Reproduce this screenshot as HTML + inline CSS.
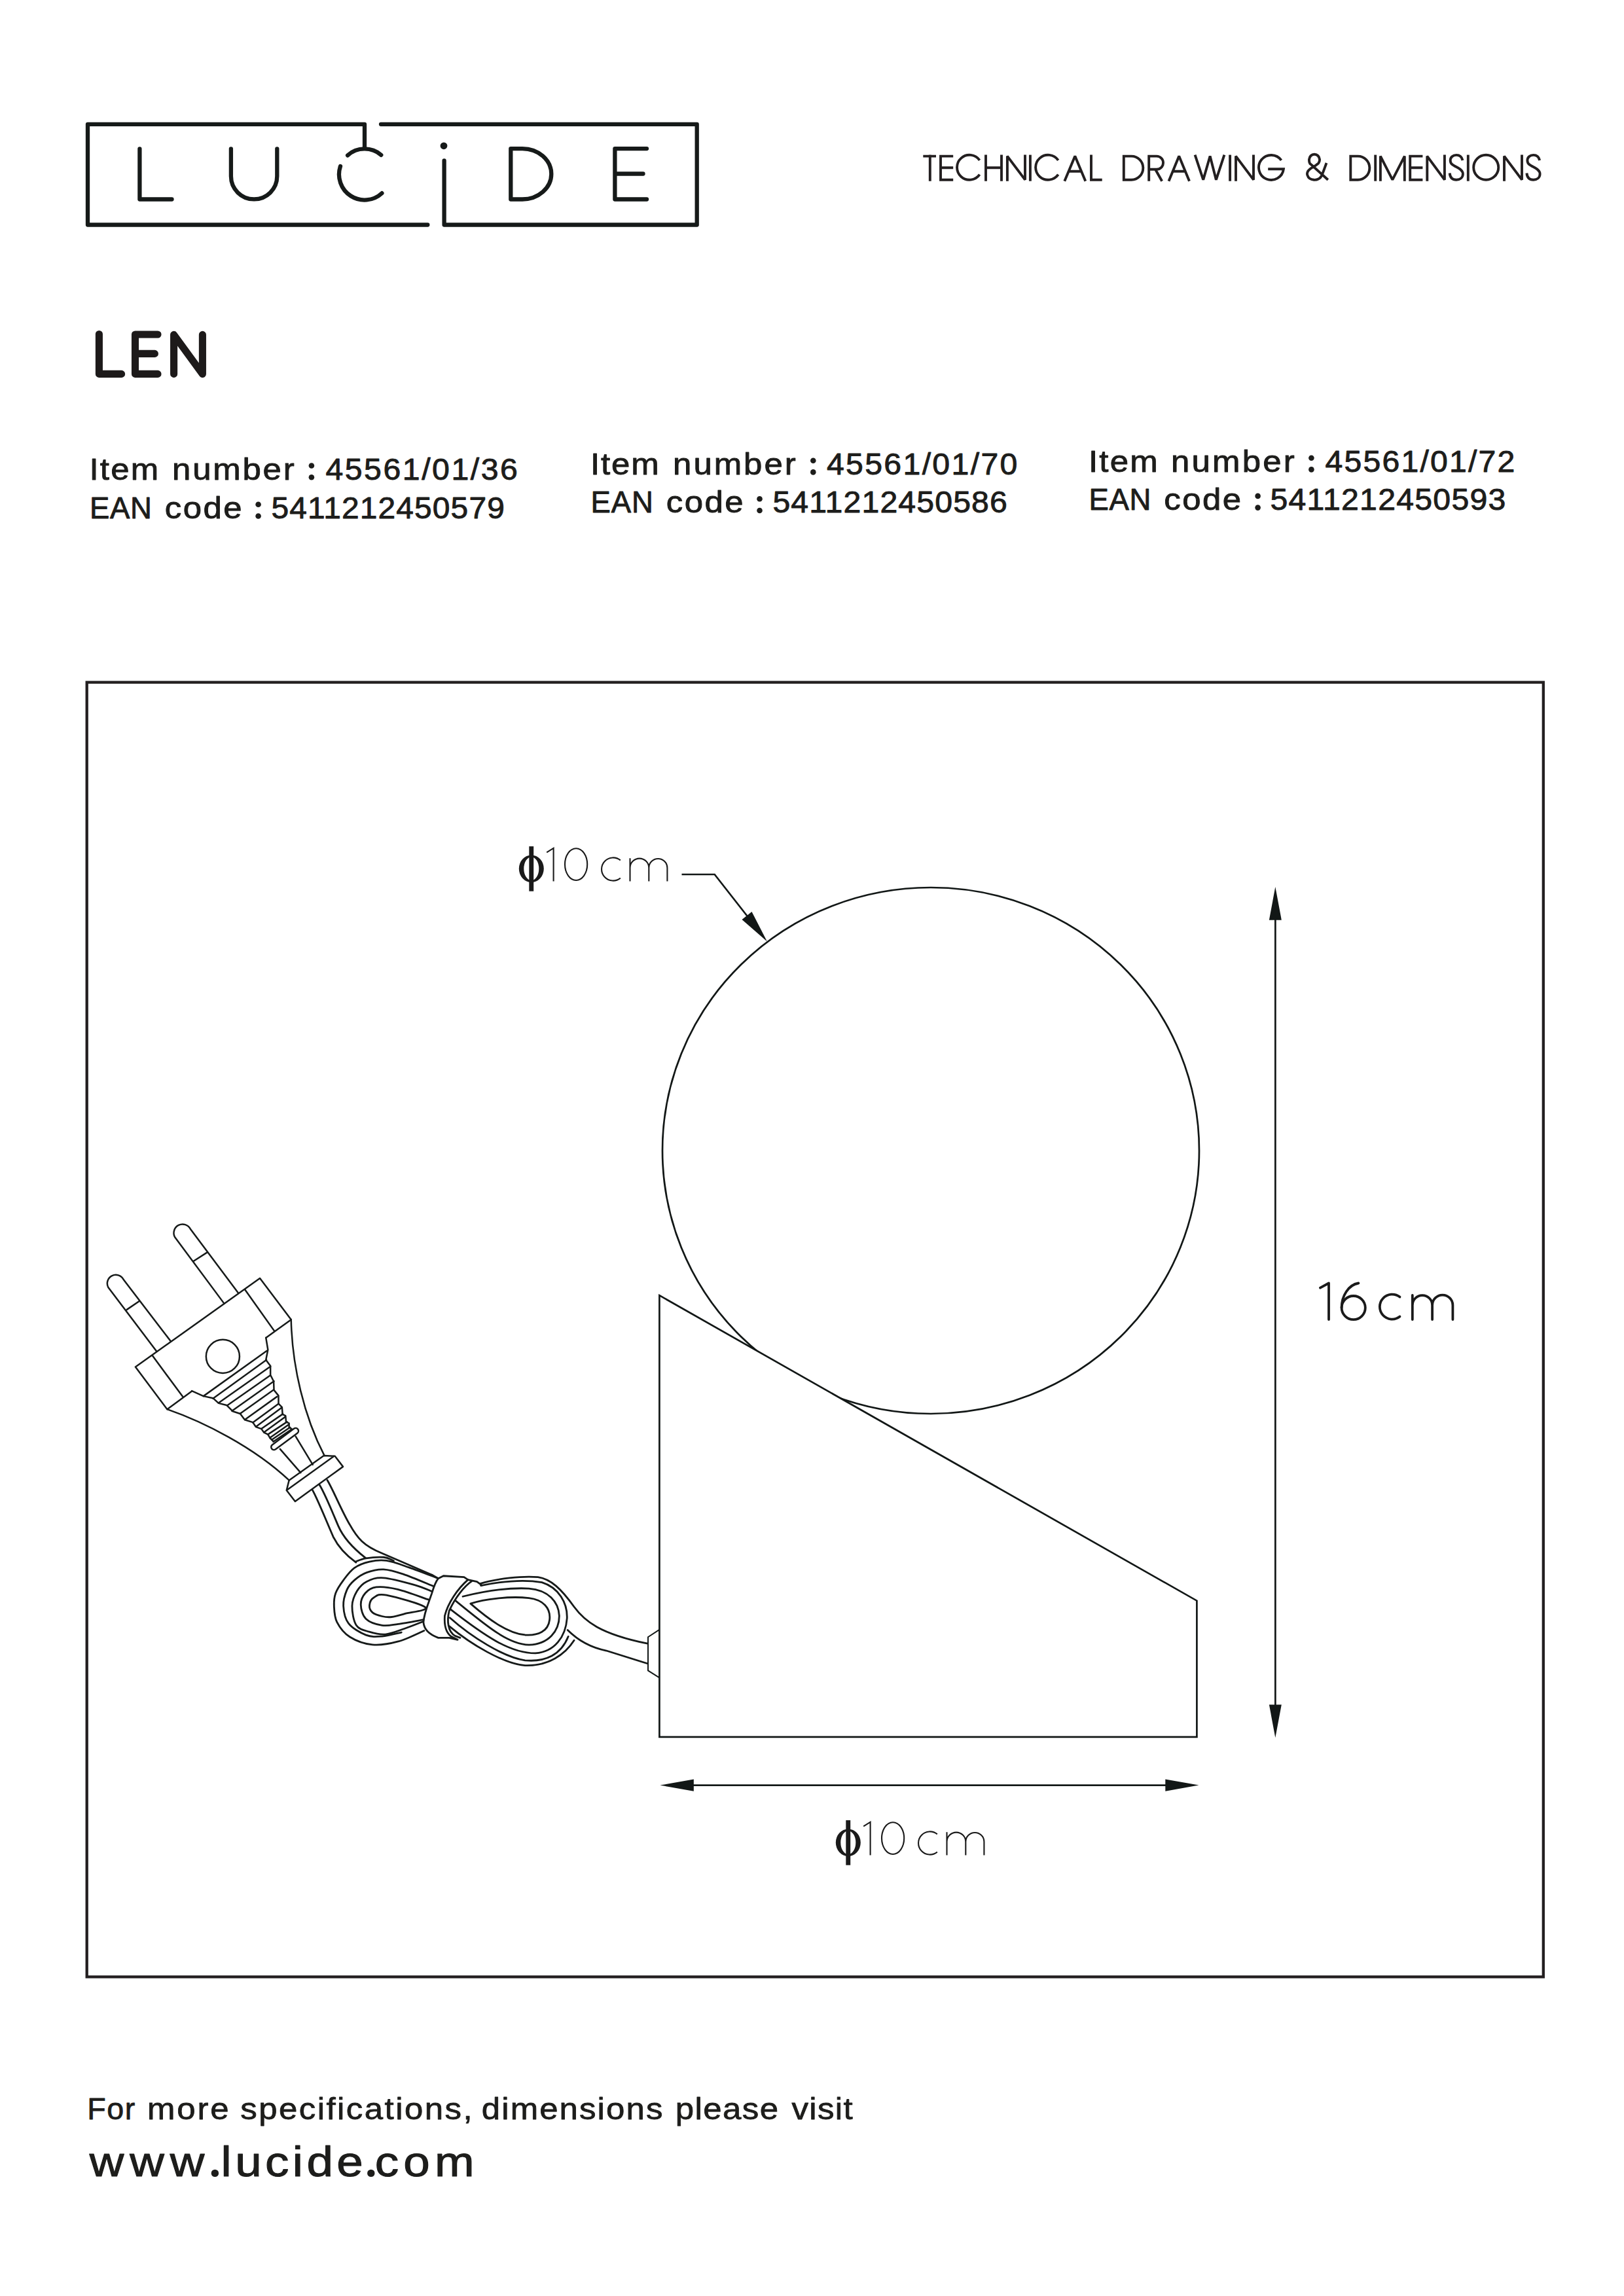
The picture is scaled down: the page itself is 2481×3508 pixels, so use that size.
<!DOCTYPE html>
<html><head><meta charset="utf-8">
<style>
html,body{margin:0;padding:0;background:#fff;}
body{width:2481px;height:3508px;overflow:hidden;position:relative;}
svg{position:absolute;left:0;top:0;}
text{font-family:"Liberation Sans",sans-serif;fill:#1d1d1b;stroke-linejoin:round;}
</style></head><body>
<svg width="2481" height="3508" viewBox="0 0 2481 3508">
<rect width="2481" height="3508" fill="#fff"/>
<!-- LOGO -->
<g fill="none" stroke="#161a19" stroke-width="6.3" stroke-linecap="round" stroke-linejoin="round">
<path d="M557,226.7 V189.8 H134 V343.5 H653.3"/>
<path d="M582,189.8 H1064.7 V343.5 H678.6 V245.4"/>
<path d="M213.4,227.3 V304.5 H262.5"/>
<path d="M352.9,227.3 V269.3 A35.2,35.2 0 0 0 423.3,269.3 V227.3"/>
<path d="M531.1,237.3 A39,39 0 0 1 582.3,236.8"/>
<path d="M520,254.1 A39,39 0 0 0 583.4,295.2"/>
<path d="M798,227.1 A44.3,38.7 0 0 1 798,304.5 H780.3 V227.1 Z"/>
<path d="M988,227.1 H939.4 V304.5 H988 M939.4,265.5 H982.5"/>
</g>
<circle cx="678" cy="222.8" r="5.4" fill="#161a19"/>

<!-- HEADER TITLE -->
<g fill="none" stroke="#231f20" stroke-width="3.9" stroke-linejoin="miter" stroke-miterlimit="2">
<path d="M1410.3,238.6 H1430 M1420.8,236.6 V276.7"/>
<path d="M1456.2,238.6 H1437 V274.7 H1456.2 M1437,256.3 H1456.2"/>
<path d="M1496.6,244.9 A19,19 0 1 0 1496.6,266.7"/>
<path d="M1506,236.6 V276.7 M1530,236.6 V276.7 M1506,256.3 H1530"/>
<path d="M1538.9,276.7 V238.6 L1566,274.7 V236.6"/>
<path d="M1573.9,236.6 V276.7"/>
<path d="M1616.7,244.9 A19,19 0 1 0 1616.7,266.7"/>
<path d="M1626.3,276.7 L1642.3,238.6 L1658.3,276.7 M1632,261.8 H1652.6"/>
<path d="M1667,236.6 V274.7 H1683.7"/>
<path d="M1716.8,238.6 H1728.5 A17.8,18.05 0 0 1 1728.5,274.7 H1716.8 Z"/>
<path d="M1755.2,276.7 V238.6 H1767 A10.05,10.05 0 0 1 1767,258.7 H1755.2 M1765,258.7 L1775.2,276.7"/>
<path d="M1785.5,276.7 L1801.2,238.6 L1817,276.7 M1791.2,261.8 H1811.2"/>
<path d="M1825.6,236.6 L1838.2,274.7 L1848.6,238.6 L1857.9,274.7 L1870.4,236.6"/>
<path d="M1879.1,236.6 V276.7"/>
<path d="M1888,276.7 V238.6 L1915,274.7 V236.6"/>
<path d="M1957.5,244.9 A19,19 0 1 0 1960.9,258.2 H1937.2"/>
<path d="M2028.8,274.8 C2024.8,271.1 2009.1,257.0 2004.5,252.8 C1999.9,248.6 2001.8,251.1 2001.0,249.5 C2000.2,247.9 1999.8,245.4 2000.0,243.5 C2000.2,241.6 2001.2,239.3 2002.5,238.0 C2003.8,236.7 2006.2,235.8 2008.0,235.8 C2009.8,235.8 2012.2,236.7 2013.5,238.0 C2014.8,239.3 2015.8,241.7 2016.0,243.5 C2016.2,245.3 2015.3,247.6 2014.5,249.0 C2013.7,250.4 2013.2,250.4 2011.0,252.0 C2008.8,253.6 2003.2,256.7 2001.0,258.5 C1998.8,260.3 1998.1,261.5 1997.5,263.0 C1996.9,264.5 1996.8,265.9 1997.3,267.5 C1997.8,269.1 1998.8,271.3 2000.5,272.5 C2002.2,273.7 2005.0,274.6 2007.2,274.8 C2009.5,275.0 2012.0,274.6 2014.0,273.5 C2016.0,272.4 2016.9,272.6 2019.0,268.5 C2021.1,264.4 2025.2,252.2 2026.5,249.0"/>
<path d="M2063.3,238.6 H2074.5 A17.8,18.05 0 0 1 2074.5,274.7 H2063.3 Z"/>
<path d="M2101.2,236.6 V276.7"/>
<path d="M2108.9,276.7 V238.6 L2127.3,274.7 L2145.8,238.6 V276.7"/>
<path d="M2173.4,238.6 H2154.2 V274.7 H2173.4 M2154.2,256.3 H2173.4"/>
<path d="M2180.3,276.7 V238.6 L2206.9,274.7 V236.6"/>
<path d="M2234.5,245 C2233.3,239.5 2229.8,236.9 2224.9,236.9 C2219.5,236.9 2215.7,240.5 2215.7,245.3 C2215.7,250.3 2219.3,252.3 2225.3,255.2 C2231.3,258.2 2234.9,261.2 2234.9,265.8 C2234.9,271.3 2230.6,274.7 2224.9,274.7 C2218.9,274.7 2215.3,271.3 2214.7,264.5"/>
<path d="M2242.8,236.6 V276.7"/>
<path d="M2289.2,255.8 A19,19 0 1 0 2251.2,255.8 A19,19 0 1 0 2289.2,255.8 Z"/>
<path d="M2298,276.7 V238.6 L2325,274.7 V236.6"/>
<path d="M2352.2,245 C2351.0,239.5 2347.5,236.9 2342.6,236.9 C2337.2,236.9 2333.4,240.5 2333.4,245.3 C2333.4,250.3 2337.0,252.3 2343.0,255.2 C2349.0,258.2 2352.6,261.2 2352.6,265.8 C2352.6,271.3 2348.3,274.7 2342.6,274.7 C2336.6,274.7 2333.0,271.3 2332.4,264.5"/>
</g>

<!-- LEN -->
<g fill="none" stroke="#1d1a1a" stroke-width="11.1" stroke-linecap="round" stroke-linejoin="round">
<path d="M151.4,510.5 V571.4 H185.6"/>
<path d="M241,511 H206.5 V571.4 H241 M206.5,540.4 H236.4"/>
<path d="M265.6,571.4 V511.4 L309.4,571.4 V511.4"/>
</g>

<!-- TEXTBLOCK -->
<g font-size="45.5" stroke="#1d1d1b" stroke-width="0.9">
<text transform="translate(136.47,732.65) scale(1.120,1)" letter-spacing="2.001">Item</text>
<text transform="translate(263.09,732.65) scale(1.120,1)" letter-spacing="2.472">number</text>
<circle cx="475.9" cy="711.5" r="4.3" stroke="none" fill="#1d1d1b"/><circle cx="475.9" cy="729.2" r="4.3" stroke="none" fill="#1d1d1b"/>
<text transform="translate(497.39,732.65) scale(1.060,1)" letter-spacing="2.390">45561/01/36</text>
</g>
<g font-size="45.5" stroke="#1d1d1b" stroke-width="0.9">
<text transform="translate(136.95,791.95) scale(1.000,1)" letter-spacing="0.702">EAN</text>
<text transform="translate(251.83,791.95) scale(1.120,1)" letter-spacing="2.136">code</text>
<circle cx="394.6" cy="770.8" r="4.3" stroke="none" fill="#1d1d1b"/><circle cx="394.6" cy="788.5" r="4.3" stroke="none" fill="#1d1d1b"/>
<text transform="translate(414.40,791.95) scale(1.053,1)" letter-spacing="1.076">5411212450579</text>
</g>
<g font-size="45.5" stroke="#1d1d1b" stroke-width="0.9">
<text transform="translate(901.97,724.85) scale(1.120,1)" letter-spacing="1.703">Item</text>
<text transform="translate(1028.09,724.85) scale(1.120,1)" letter-spacing="2.651">number</text>
<circle cx="1242.3" cy="703.7" r="4.3" stroke="none" fill="#1d1d1b"/><circle cx="1242.3" cy="721.4" r="4.3" stroke="none" fill="#1d1d1b"/>
<text transform="translate(1262.89,724.85) scale(1.060,1)" letter-spacing="2.201">45561/01/70</text>
</g>
<g font-size="45.5" stroke="#1d1d1b" stroke-width="0.9">
<text transform="translate(902.45,783.45) scale(1.000,1)" letter-spacing="0.952">EAN</text>
<text transform="translate(1017.83,783.45) scale(1.120,1)" letter-spacing="2.136">code</text>
<circle cx="1160.5" cy="762.3" r="4.3" stroke="none" fill="#1d1d1b"/><circle cx="1160.5" cy="780.0" r="4.3" stroke="none" fill="#1d1d1b"/>
<text transform="translate(1180.39,783.45) scale(1.060,1)" letter-spacing="1.055">5411212450586</text>
</g>
<g font-size="45.5" stroke="#1d1d1b" stroke-width="0.9">
<text transform="translate(1662.97,720.85) scale(1.120,1)" letter-spacing="2.001">Item</text>
<text transform="translate(1789.09,720.85) scale(1.120,1)" letter-spacing="2.829">number</text>
<circle cx="2003.4" cy="699.7" r="4.3" stroke="none" fill="#1d1d1b"/><circle cx="2003.4" cy="717.4" r="4.3" stroke="none" fill="#1d1d1b"/>
<text transform="translate(2024.39,720.85) scale(1.060,1)" letter-spacing="2.060">45561/01/72</text>
</g>
<g font-size="45.5" stroke="#1d1d1b" stroke-width="0.9">
<text transform="translate(1663.45,779.05) scale(1.000,1)" letter-spacing="0.702">EAN</text>
<text transform="translate(1778.33,779.05) scale(1.120,1)" letter-spacing="2.136">code</text>
<circle cx="1921.6" cy="757.9" r="4.3" stroke="none" fill="#1d1d1b"/><circle cx="1921.6" cy="775.6" r="4.3" stroke="none" fill="#1d1d1b"/>
<text transform="translate(1940.39,779.05) scale(1.060,1)" letter-spacing="1.173">5411212450593</text>
</g>
<g font-size="45.5" stroke="#1d1d1b" stroke-width="0.8">
<text transform="translate(133.33,3237.60) scale(1.025,1)" letter-spacing="1.464">For</text>
<text transform="translate(225.04,3237.60) scale(1.120,1)" letter-spacing="2.505">more</text>
<text transform="translate(367.28,3237.60) scale(1.120,1)" letter-spacing="2.189">specifications,</text>
<text transform="translate(735.78,3237.60) scale(1.120,1)" letter-spacing="1.875">dimensions</text>
<text transform="translate(1031.66,3237.60) scale(1.120,1)" letter-spacing="1.292">please</text>
<text transform="translate(1209.40,3237.60) scale(1.120,1)" letter-spacing="1.236">visit</text>
</g>
<g font-size="65" stroke="#1d1d1b" stroke-width="1.1">
<text transform="translate(136.67,3325.45) scale(1.120,1)" letter-spacing="7.979">www</text>
<circle cx="328.4" cy="3320.4" r="5.7" stroke="none" fill="#1d1d1b"/>
<text transform="translate(337.57,3325.45) scale(1.120,1)" letter-spacing="4.835">lucide</text>
<circle cx="566.8" cy="3320.4" r="5.7" stroke="none" fill="#1d1d1b"/>
<text transform="translate(572.81,3325.45) scale(1.120,1)" letter-spacing="6.363">com</text>
</g>
<!-- /TEXTBLOCK -->

<!-- BIG BOX -->
<rect x="132.7" y="1042.5" width="2225.1" height="1977.9" fill="none" stroke="#231f20" stroke-width="4.3"/>

<!-- LAMP -->
<g fill="none" stroke="#121716" stroke-width="2.7">
<ellipse cx="1422" cy="1758" rx="410" ry="402"/>
<path d="M1007.4,1979.2 L1828.4,2445.7 V2653.8 H1007.4 Z" fill="#fff"/>
<!-- strain relief -->
<path d="M1007.4,2489.9 L990,2501.2 V2552.4 L1007.4,2563.3" stroke-width="2"/>
</g>

<!-- DIMENSIONS -->
<g fill="#121716" stroke="none">
<rect x="1947" y="1400" width="2.7" height="1210"/>
<path d="M1948.3,1355.1 L1957.8,1405.8 H1938.9 Z"/>
<path d="M1948.3,2655.1 L1957.8,2604.5 H1938.9 Z"/>
<rect x="1055" y="2726.3" width="730" height="2.7"/>
<path d="M1008.3,2727.6 L1059.8,2718.5 V2736.7 Z"/>
<path d="M1831.5,2727.6 L1780.3,2718.5 V2736.7 Z"/>
<path d="M1171.9,1438.4 L1148.5,1393.1 L1133.5,1404.9 Z"/>
</g>
<path d="M1041.5,1336 H1091.7 L1143,1401.5" fill="none" stroke="#121716" stroke-width="2.7"/>

<!-- LABEL phi10cm (top) -->
<g id="phi10">
<rect x="808.3" y="1293.1" width="6.9" height="68.6" fill="#1a1a1a"/>
<path fill="#1a1a1a" fill-rule="evenodd" d="M811.8,1306.4 A19,20.8 0 1 1 811.8,1348 A19,20.8 0 1 1 811.8,1306.4 Z M811.8,1309.4 A11.5,17.8 0 1 0 811.8,1345 A11.5,17.8 0 1 0 811.8,1309.4 Z"/>
<g fill="none" stroke="#1a1a1a" stroke-width="2.1">
<path d="M835.2,1302.4 L845.6,1295.9 V1346.4"/>
<ellipse cx="880.1" cy="1320.6" rx="17.1" ry="24.4"/>
<path d="M947.8,1314.4 A17.6,17.6 0 1 0 947.8,1341.6"/>
<path d="M962.5,1346.4 V1311.2 M962.5,1326 A14.4,14.4 0 0 1 991.3,1326 V1346.4 M991.3,1326 A14.05,14.05 0 0 1 1019.4,1326 V1346.4"/>
</g>
</g>
<use href="#phi10" transform="translate(484,1488)"/>

<!-- LABEL 16cm -->
<g fill="none" stroke="#1a1a1a" stroke-width="3.8" stroke-linecap="round" stroke-linejoin="round">
<path d="M2016.9,1967.7 L2030,1960.5 V2016"/>
<circle cx="2067.7" cy="1998.1" r="18.1"/>
<path d="M2075.4,1960.5 C2060,1963 2049.6,1980 2049.6,1998"/>
<path d="M2138.5,1981.6 A19,19 0 1 0 2138.5,2011.6"/>
<path d="M2157.8,2016 V1979 M2157.8,1994.2 A15.15,15.15 0 0 1 2188.1,1994.2 V2016 M2188.1,1994.2 A15.65,15.65 0 0 1 2219.4,1994.2 V2016"/>
</g>

<!-- PLUG -->
<g fill="none" stroke="#161a19" stroke-width="2.5" stroke-linejoin="round" stroke-linecap="round">
<!-- pins (zoom A frame) -->
<g transform="translate(150,1850) scale(0.153941)">
<path vector-effect="non-scaling-stroke" d="M100,760 L580,1395 M250,680 L720,1295 M100,760 A84,84 0 0 1 250,680 M285,980 L410,895"/>
<path vector-effect="non-scaling-stroke" d="M760,260 L1250,920 M915,180 L1390,815 M760,260 A86,86 0 0 1 915,180 M945,500 L1085,410"/>
</g>
<!-- body (zoom B frame) -->
<g transform="translate(200,1950) scale(0.153941)">
<path vector-effect="non-scaling-stroke" d="M45,900 L1280,20 L1590,430 L1340,610 M45,900 L360,1320 L605,1140 M215,790 L515,1195 M1130,130 L1425,545"/>
<circle vector-effect="non-scaling-stroke" cx="912" cy="795" r="166"/>
</g>
<!-- lower body (zoom C frame) -->
<g transform="translate(280,2080) scale(0.153941)">
<path vector-effect="non-scaling-stroke" d="M820,-235 L840,-115 L820,-15 L865,45 L865,135 L897,198 L900,285 L945,340 L945,420 L980,455 L985,525 L1015,540 L1020,600 L1050,615 L1050,655 L1075,670"/>
<path vector-effect="non-scaling-stroke" d="M85,293 L200,345 L295,365 L350,415 L430,435 L490,495 L565,520 L610,580 L690,605 L720,650 L775,670 L800,705 L840,725 L860,760 L890,790"/>
<path vector-effect="non-scaling-stroke" d="M200,345 L830,-105 M295,368 L825,-15 M350,412 L865,50 M437,437 L862,140 M483,492 L900,197 M565,518 L896,282 M612,578 L930,350 M690,607 L945,420 M722,648 L978,458 M777,668 L988,522 M802,703 L1012,550 M840,725 L1030,600 M860,758 L1042,630 M878,778 L1060,655 M893,797 L1075,675"/>
<path vector-effect="non-scaling-stroke" d="M916.7,872.5 L1131.7,712.5 A28,28 0 0 0 1098.3,667.5 L883.3,827.5 A28,28 0 0 0 916.7,872.5 Z"/>
<path vector-effect="non-scaling-stroke" d="M960,870 L1165,1105 M1115,745 L1285,1025"/>
<path vector-effect="non-scaling-stroke" d="M1050,1180 L1395,935 L1505,940 L1585,1045 L1110,1390 L1025,1280 Z M1025,1280 L1490,945"/>
<path vector-effect="non-scaling-stroke" d="M1070,-415 C1080,50 1200,550 1400,935"/>
<path vector-effect="non-scaling-stroke" d="M-160,475 C200,600 700,850 1050,1180"/>
</g>
<!-- cable (zoom D frame) -->
<g transform="translate(460,2240) scale(0.123153)" stroke-width="2.8">
<path vector-effect="non-scaling-stroke" d="M140,295 C200,400 300,650 400,880 C450,980 550,1100 680,1195"/>
<path vector-effect="non-scaling-stroke" d="M230,235 C300,350 400,600 460,740 C520,880 620,1000 800,1140"/>
<path vector-effect="non-scaling-stroke" d="M325,175 C400,300 500,550 600,720 C700,900 780,990 1000,1080 L1624,1350"/>
</g>
<!-- coil left (frame G) -->
<g transform="translate(500,2370) scale(0.098522)" stroke-width="2.8">
<path vector-effect="non-scaling-stroke" d="M1722.0,423.0 C1646.2,394.5 1401.2,298.0 1267.0,252.0 C1132.8,206.0 1019.2,161.7 917.0,147.0 C814.8,132.3 736.8,145.2 654.0,164.0 C571.2,182.8 487.3,212.3 420.0,260.0 C352.7,307.7 298.3,385.0 250.0,450.0 C201.7,515.0 154.2,583.3 130.0,650.0 C105.8,716.7 101.7,775.0 105.0,850.0 C108.3,925.0 109.2,1020.0 150.0,1100.0 C190.8,1180.0 258.3,1271.7 350.0,1330.0 C441.7,1388.3 575.0,1438.3 700.0,1450.0 C825.0,1461.7 966.5,1436.2 1100.0,1400.0 C1233.5,1363.8 1434.2,1260.8 1501.0,1233.0"/>
<path vector-effect="non-scaling-stroke" d="M436.0,164.0 C463.3,155.0 527.2,121.7 600.0,110.0 C672.8,98.3 805.7,89.3 873.0,94.0 C940.3,98.7 982.2,130.7 1004.0,138.0 L1030,150"/>
<path vector-effect="non-scaling-stroke" d="M1642.0,542.0 C1564.8,511.2 1307.2,400.2 1179.0,357.0 C1050.8,313.8 967.7,287.3 873.0,283.0 C778.3,278.7 686.5,303.2 611.0,331.0 C535.5,358.8 471.2,405.2 420.0,450.0 C368.8,494.8 332.3,533.3 304.0,600.0 C275.7,666.7 245.7,763.3 250.0,850.0 C254.3,936.7 271.7,1045.0 330.0,1120.0 C388.3,1195.0 513.3,1266.7 600.0,1300.0 C686.7,1333.3 758.3,1326.7 850.0,1320.0 C941.7,1313.3 1100.0,1270.0 1150.0,1260.0"/>
<path vector-effect="non-scaling-stroke" d="M1621.0,623.0 C1576.5,606.3 1478.7,557.8 1354.0,523.0 C1229.3,488.2 996.8,422.7 873.0,414.0 C749.2,405.3 679.8,436.7 611.0,471.0 C542.2,505.3 497.7,556.8 460.0,620.0 C422.3,683.2 386.7,761.7 385.0,850.0 C383.3,938.3 405.8,1083.3 450.0,1150.0 C494.2,1216.7 575.0,1226.7 650.0,1250.0 C725.0,1273.3 808.3,1298.3 900.0,1290.0 C991.7,1281.7 1103.2,1232.8 1200.0,1200.0 C1296.8,1167.2 1434.2,1110.8 1481.0,1093.0"/>
<path vector-effect="non-scaling-stroke" d="M1572.0,753.0 C1492.0,726.3 1227.5,625.5 1092.0,593.0 C956.5,560.5 842.7,548.5 759.0,558.0 C675.3,567.5 629.8,604.7 590.0,650.0 C550.2,695.3 518.3,763.3 520.0,830.0 C521.7,896.7 545.0,996.7 600.0,1050.0 C655.0,1103.3 766.7,1136.7 850.0,1150.0 C933.3,1163.3 993.2,1144.5 1100.0,1130.0 C1206.8,1115.5 1425.8,1074.2 1491.0,1063.0"/>
<path vector-effect="non-scaling-stroke" d="M1522.0,873.0 C1474.8,824.8 1050.7,706.5 917.0,681.0 C783.3,655.5 763.8,693.8 720.0,720.0 C676.2,746.2 657.3,799.7 654.0,838.0 C650.7,876.3 667.3,921.3 700.0,950.0 C732.7,978.7 800.0,998.3 850.0,1010.0 C900.0,1021.7 941.7,1026.7 1000.0,1020.0 C1058.3,1013.3 1113.0,994.5 1200.0,970.0 C1287.0,945.5 1569.2,921.2 1522.0,873.0 Z"/>
<path vector-effect="non-scaling-stroke" d="M1624,367 L1722,423"/>
</g>
<!-- band (frame H) -->
<g transform="translate(640,2390) scale(0.098522)" stroke-width="2.8">
<path vector-effect="non-scaling-stroke" fill="#fff" d="M300,220 L380,180 L700,200 L760,240 C600,380 450,600 400,800 C390,950 420,1060 500,1120 L600,1170 L470,1140 L300,1140 C160,1090 80,1020 70,900 C80,750 150,600 200,450 C230,350 260,270 300,220 Z"/>
<path vector-effect="non-scaling-stroke" d="M760,240 L900,270 L975,325 M830,255 C700,340 560,520 470,720 C430,880 450,1050 560,1110 L640,1140"/>
</g>
<!-- coil right (frame F) -->
<g transform="translate(680,2390) scale(0.197044)" stroke-width="2.8">
<path vector-effect="non-scaling-stroke" d="M197,305 C300,270 500,245 650,262 C760,275 820,340 810,430 C800,520 720,555 620,548 C480,535 330,420 197,305 Z"/>
<path vector-effect="non-scaling-stroke" d="M137,250 C300,210 500,180 650,188 C800,200 880,290 885,400 C885,520 800,620 650,625 C480,620 300,460 77,280"/>
<path vector-effect="non-scaling-stroke" d="M277,165 C450,130 600,115 750,140 C880,180 950,300 945,420 C935,560 850,680 700,690 C500,690 300,550 42,350"/>
<path vector-effect="non-scaling-stroke" d="M272,150 C400,110 600,90 720,100 C820,115 900,190 1000,330 C1080,440 1200,540 1570,615"/>
<path vector-effect="non-scaling-stroke" d="M37,415 C200,560 450,720 620,745 C780,760 900,700 955,560"/>
<path vector-effect="non-scaling-stroke" d="M32,480 C200,620 450,770 620,785 C800,790 930,700 1000,590"/>
<path vector-effect="non-scaling-stroke" d="M950,510 C1000,560 1100,640 1250,670 L1570,770"/>
</g>
</g>

</svg>
</body></html>
